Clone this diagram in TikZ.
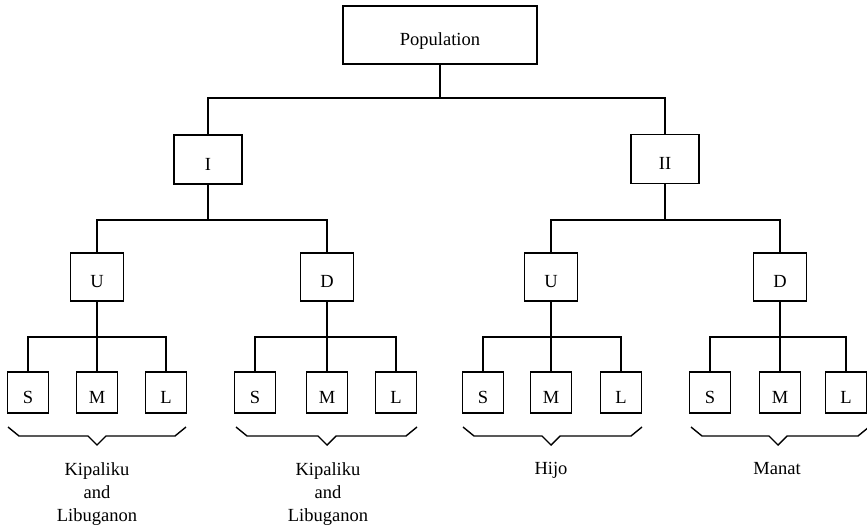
\documentclass[tikz,border=0pt]{standalone}
\usepackage{fontspec}
\setmainfont{Liberation Serif}
\begin{document}
\begin{tikzpicture}[x=1pt,y=-1pt,
  every node/.style={font=\fontsize{18.5}{23}\selectfont},
  box/.style={draw,line width=1.7pt,inner sep=0pt,text height=21pt,text depth=0pt},
  popbox/.style={box,minimum width=194pt,minimum height=58pt},
  topbox/.style={box,minimum width=68pt,minimum height=49pt},
  midbox/.style={box,minimum width=53pt,minimum height=48pt},
  leafbox/.style={box,minimum width=41pt,minimum height=41pt},
  link/.style={line width=1.7pt},
  brace/.style={line width=1.4pt,line join=miter},
  lab/.style={align=center,anchor=north}]
\clip (0,0) rectangle (867,530);
\fill[white] (0,0) rectangle (867,530);

% nodes
\node[popbox] (pop) at (440,35) {Population};
\node[topbox] (I) at (208,159.5) {I};
\node[topbox] (II) at (665,159) {II};
\node[midbox] (U1) at (97,277) {U};
\node[midbox] (D1) at (327,277) {D};
\node[midbox] (U2) at (551,277) {U};
\node[midbox] (D2) at (780,277) {D};

\node[leafbox] (S1) at (28,392.5) {S};
\node[leafbox] (M1) at (97,392.5) {M};
\node[leafbox] (L1) at (166,392.5) {L};
\node[leafbox] (S2) at (255,392.5) {S};
\node[leafbox] (M2) at (327,392.5) {M};
\node[leafbox] (L2) at (396,392.5) {L};
\node[leafbox] (S3) at (483,392.5) {S};
\node[leafbox] (M3) at (551,392.5) {M};
\node[leafbox] (L3) at (621,392.5) {L};
\node[leafbox] (S4) at (710,392.5) {S};
\node[leafbox] (M4) at (780,392.5) {M};
\node[leafbox] (L4) at (846,392.5) {L};

% junctions
\coordinate (j0) at (440,98);
\coordinate (jI) at (208,220);
\coordinate (jII) at (665,220);
\coordinate (jU1) at (97,337);
\coordinate (jD1) at (327,337);
\coordinate (jU2) at (551,337);
\coordinate (jD2) at (780,337);

% connectors
\draw[link] (pop.south) -- (j0);
\draw[link] (I.north) |- (j0) -| (II.north);
\draw[link] (I.south) -- (jI);
\draw[link] (U1.north) |- (jI) -| (D1.north);
\draw[link] (II.south) -- (jII);
\draw[link] (U2.north) |- (jII) -| (D2.north);
\draw[link] (U1.south) -- (M1.north);
\draw[link] (S1.north) |- (jU1) -| (L1.north);
\draw[link] (D1.south) -- (M2.north);
\draw[link] (S2.north) |- (jD1) -| (L2.north);
\draw[link] (U2.south) -- (M3.north);
\draw[link] (S3.north) |- (jU2) -| (L3.north);
\draw[link] (D2.south) -- (M4.north);
\draw[link] (S4.north) |- (jD2) -| (L4.north);

% braces
\draw[brace] (8,427) -- (19,436) -- (88,436) -- (97,445) -- (106,436) -- (175,436) -- (186,427);
\draw[brace] (236,427) -- (247,436) -- (318,436) -- (327,445) -- (336,436) -- (406,436) -- (417,427);
\draw[brace] (463,427) -- (474,436) -- (542,436) -- (551,445) -- (560,436) -- (631,436) -- (642,427);
\draw[brace] (691,427) -- (702,436) -- (769,436) -- (778,445) -- (787,436) -- (858,436) -- (869,427);

% labels
\node[lab] (t1) at (97,459) {Kipaliku\\and\\Libuganon};
\node[lab] (t2) at (328,459) {Kipaliku\\and\\Libuganon};
\node[lab] (t3) at (551,459) {Hijo};
\node[lab] (t4) at (777,459) {Manat};
\end{tikzpicture}
\end{document}
